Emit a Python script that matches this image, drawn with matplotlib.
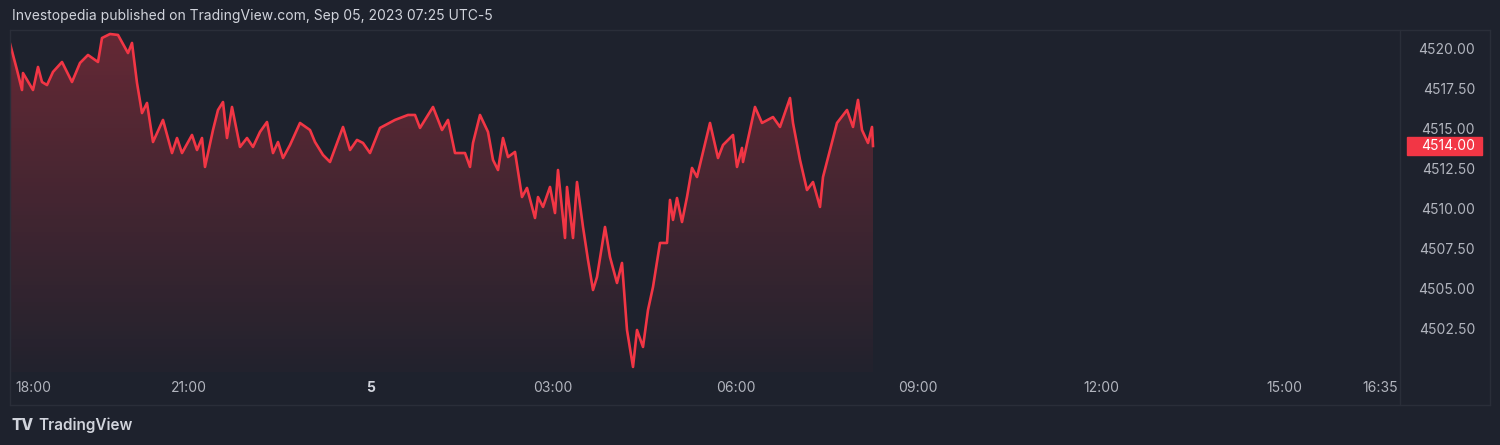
import matplotlib
matplotlib.use("Agg")
import matplotlib.pyplot as plt
import numpy as np
from matplotlib.patches import Rectangle

plt.rcParams['font.family'] = ['Inter', 'DejaVu Sans']

# time in minutes relative to midnight (session index scale), price
times = [-361,-354,-349,-348,-338,-333,-329,-324,-318,-309,-299,-291,-283,-273,-269,-261,-253,-243,-239,-234,
         -229,-224,-218,-208,-199,-194,-189,-179,-174,-169,-166,-158,-153,-148,-144,-139,-131,-124,-118,-111,
         -104,-98,-93,-88,-81,-71,-61,-56,-48,-41,-28,-21,-14,-8,-1,9,24,37,44,49,62,71,77,
         84,94,99,102,109,117,122,127,132,137,144,151,156,164,167,172,179,184,187,194,196,202,206,212,217,222,
         226,234,239,246,251,256,262,266,272,277,282,289,296,299,302,306,311,316,321,326,332,339,347,352,362,
         366,371,372,384,391,402,409,419,422,429,436,442,449,452,466,476,482,487,491,497,501,502]
prices = [4520.4,4518.75,4517.5,4518.56,4517.5,4518.94,4518.0,4517.81,4518.63,4519.25,4518.0,4519.19,4519.69,4519.25,4520.75,4521.0,4520.94,4519.81,4520.44,4517.94,
          4516.06,4516.69,4514.25,4515.63,4513.56,4514.5,4513.56,4514.69,4513.75,4514.5,4512.69,4515.0,4516.25,4516.75,4514.5,4516.44,4513.94,4514.5,4513.94,4514.88,
          4515.5,4513.56,4514.25,4513.25,4514.06,4515.44,4515.0,4514.25,4513.44,4513.0,4515.19,4513.75,4514.38,4514.19,4513.56,4515.13,4515.63,4515.94,4515.94,4515.13,4516.44,4515.0,4515.63,
          4513.56,4513.56,4512.69,4514.19,4515.94,4514.88,4513.13,4512.5,4514.5,4513.31,4513.63,4510.81,4511.38,4509.5,4510.81,4510.19,4511.44,4509.81,4512.5,4508.25,4511.44,4508.25,4511.75,4508.94,4506.88,4505.0,
          4505.81,4508.94,4507.06,4505.44,4506.69,4502.5,4500.19,4502.5,4501.44,4503.75,4505.19,4507.94,4507.94,4510.63,4509.38,4510.75,4509.25,4510.81,4512.63,4512.06,4513.63,4515.44,4513.25,4514.06,4514.69,
          4512.69,4513.88,4513.0,4516.44,4515.44,4515.81,4515.19,4517.0,4515.44,4513.13,4511.25,4511.75,4510.19,4512.06,4515.44,4516.25,4515.19,4516.88,4515.0,4514.19,4515.19,4514.0]
xtick_pos = [-338, -182, 0, 182, 365, 547, 730, 913, 1009]
xtick_labels = ["18:00", "21:00", "5", "03:00", "06:00", "09:00", "12:00", "15:00", "16:35"]
ytick_vals = [4502.5, 4505.0, 4507.5, 4510.0, 4512.5, 4515.0, 4517.5, 4520.0]
last_price = 4514.00
title = "Investopedia published on TradingView.com, Sep 05, 2023 07:25 UTC-5"

BG = "#1e222d"
RED = "#f23645"
TXT = "#b2b5be"

fig = plt.figure(figsize=(15, 4.45), dpi=100, facecolor=BG)
W, H = 1500, 445
def fx(px): return px / W
def fy(py): return 1 - py / H

ax = fig.add_axes([fx(10), fy(372), fx(1400) - fx(10), fy(32) - fy(372)])
ax.set_facecolor(BG)
ymin, ymax = 4523.125 - 372/16, 4523.125 - 32/16
ax.set_xlim(-361, 1029)
ax.set_ylim(ymin, ymax)

t = np.array(times); p = np.array(prices)
grad = np.linspace(0, 1, 256).reshape(-1, 1)
cmap = matplotlib.colors.LinearSegmentedColormap.from_list(
    "g", [(0.949, 0.212, 0.271, 0.02), (0.949, 0.212, 0.271, 0.34)])
im = ax.imshow(grad, aspect="auto", cmap=cmap, origin="lower",
               extent=[t.min(), t.max(), ymin, p.max()], zorder=1)
poly = ax.fill_between(t, p, ymin, color="none")
im.set_clip_path(poly.get_paths()[0], transform=ax.transData)
ax.plot(t, p, color=RED, lw=1.9, zorder=3, solid_joinstyle="round")

for s in ax.spines.values():
    s.set_visible(False)
ax.set_xticks([]); ax.set_yticks([])

for v in ytick_vals:
    fig.text(fx(1475), fy(50 + (4520 - v) * 16), f"{v:.2f}", color=TXT, fontsize=10,
             ha="right", va="center")
ly = 50 + (4520 - last_price) * 16
fig.patches.append(Rectangle((fx(1407), fy(ly + 9)), fx(1482) - fx(1407), fy(ly - 9) - fy(ly + 9),
                             transform=fig.transFigure, color=RED, zorder=5))
fig.text(fx(1475), fy(ly), f"{last_price:.2f}", color="white", fontsize=10, ha="right", va="center", zorder=6)
for pos, lab in zip(xtick_pos, xtick_labels):
    px = 10 + (pos + 361)
    fig.text(fx(px), fy(388), lab, color=("#d1d4dc" if lab == "5" else TXT), fontsize=10,
             ha="center", va="center", fontweight=("bold" if lab == "5" else "normal"))
for xs, ys in [([10, 1490], [405, 405]), ([1400, 1400], [30, 405]), ([10, 1490], [30, 30]),
               ([10, 10], [30, 405]), ([1490, 1490], [30, 405])]:
    fig.add_artist(plt.Line2D([fx(x) for x in xs], [fy(y) for y in ys], color="#2a2e39", lw=1))

fig.text(fx(12), fy(16), title, color="#d1d4dc", fontsize=10, ha="left", va="center")
fig.text(fx(11), fy(425), "TV", color="#d1d4dc", fontsize=11, fontweight="heavy", ha="left", va="center")
fig.text(fx(38), fy(425), "TradingView", color="#d1d4dc", fontsize=11, fontweight="semibold", ha="left", va="center")

fig.savefig("out.png", dpi=100, facecolor=BG)
